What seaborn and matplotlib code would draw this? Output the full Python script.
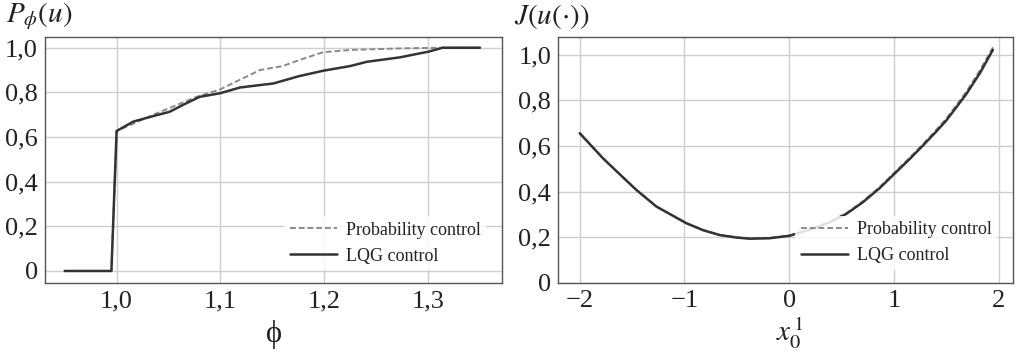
import numpy as np
import pandas as pd
import matplotlib
matplotlib.use("Agg")
import matplotlib.pyplot as plt
import seaborn as sns

# ---- data ----
phi_lqg = [0.95, 0.995, 1.0, 1.016, 1.0385, 1.051, 1.067, 1.080, 1.0995, 1.119, 1.151,
           1.176, 1.199, 1.225, 1.241, 1.273, 1.289, 1.300, 1.314, 1.350]
p_lqg = [0.0, 0.0, 0.627, 0.669, 0.698, 0.713, 0.751, 0.780, 0.796, 0.822, 0.840,
         0.873, 0.897, 0.918, 0.937, 0.957, 0.972, 0.982, 1.0, 1.0]
phi_prob = [0.95, 0.995, 1.0, 1.0385, 1.077, 1.0995, 1.115, 1.138, 1.160, 1.176,
            1.199, 1.225, 1.273, 1.310, 1.350]
p_prob = [0.0, 0.0, 0.627, 0.706, 0.780, 0.813, 0.848, 0.900, 0.918, 0.945,
          0.980, 0.990, 0.997, 1.0, 1.0]

x0_lqg = [-2.0, -1.778, -1.60, -1.459, -1.268, -0.982, -0.82, -0.664, -0.50, -0.378,
          -0.187, 0.004, 0.226, 0.40, 0.545, 0.70, 0.863, 1.022, 1.15, 1.276, 1.40,
          1.499, 1.60, 1.690, 1.82, 1.944]
j_lqg = [0.656, 0.546, 0.468, 0.407, 0.334, 0.261, 0.230, 0.209, 0.198, 0.193,
         0.195, 0.206, 0.237, 0.268, 0.302, 0.352, 0.415, 0.486, 0.543, 0.602, 0.662,
         0.712, 0.773, 0.828, 0.920, 1.022]
x0_prob = [-2.0, -1.778, -1.60, -1.459, -1.268, -0.982, -0.82, -0.664, -0.50, -0.378,
           -0.187, 0.004, 0.226, 0.40, 0.545, 0.70, 0.863, 1.022, 1.15, 1.276, 1.40,
           1.499, 1.60, 1.690, 1.82, 1.950]
j_prob = [0.658, 0.547, 0.469, 0.408, 0.335, 0.262, 0.231, 0.210, 0.199, 0.194,
          0.196, 0.207, 0.239, 0.270, 0.305, 0.356, 0.420, 0.491, 0.549, 0.608, 0.669,
          0.720, 0.782, 0.838, 0.932, 1.038]

left_yticks = [0, 0.2, 0.4, 0.6, 0.8, 1.0]
left_yticklabels = ["0", "0,2", "0,4", "0,6", "0,8", "1,0"]
left_xticks = [1.0, 1.1, 1.2, 1.3]
left_xticklabels = ["1,0", "1,1", "1,2", "1,3"]
right_yticks = [0, 0.2, 0.4, 0.6, 0.8, 1.0]
right_yticklabels = ["0", "0,2", "0,4", "0,6", "0,8", "1,0"]
right_xticks = [-2, -1, 0, 1, 2]
right_xticklabels = ["\u22122", "\u22121", "0", "1", "2"]

sns.set_style("whitegrid")
plt.rcParams["font.family"] = ["Liberation Serif", "DejaVu Serif"]
plt.rcParams["mathtext.fontset"] = "stix"

fig = plt.figure(figsize=(10.22, 3.56), dpi=100)
ax1 = fig.add_axes([0.044, 0.205, 0.447, 0.691])
ax2 = fig.add_axes([0.546, 0.206, 0.445, 0.691])

grid_c = "#cfcfcf"
spine_c = "#555555"
solid_c = "#333333"
dash_c = "#8a8a8a"

sns.lineplot(x=phi_prob, y=p_prob, ax=ax1, color=dash_c, linestyle=(0, (3, 1.5)),
             linewidth=1.4, label="Probability control", sort=False)
sns.lineplot(x=phi_lqg, y=p_lqg, ax=ax1, color=solid_c, linewidth=1.8,
             label="LQG control", sort=False)

sns.lineplot(x=x0_prob, y=j_prob, ax=ax2, color=dash_c, linestyle=(0, (3, 1.5)),
             linewidth=1.4, label="Probability control", sort=False)
sns.lineplot(x=x0_lqg, y=j_lqg, ax=ax2, color=solid_c, linewidth=1.8,
             label="LQG control", sort=False)

ax1.set_xlim(0.931, 1.371)
ax1.set_ylim(-0.054, 1.048)
ax2.set_xlim(-2.207, 2.134)
ax2.set_ylim(0, 1.08)

for ax, xt, xtl, yt, ytl in [(ax1, left_xticks, left_xticklabels, left_yticks, left_yticklabels),
                             (ax2, right_xticks, right_xticklabels, right_yticks, right_yticklabels)]:
    ax.set_xticks(xt)
    ax.set_xticklabels(xtl)
    ax.set_yticks(yt)
    ax.set_yticklabels(ytl)
    ax.tick_params(axis="both", labelsize=19, direction="in", length=7, width=1.2,
                   color="#444444", pad=5, labelcolor="#222222")
    ax.grid(True, color=grid_c, linewidth=1.0)
    for s in ax.spines.values():
        s.set_color(spine_c)
        s.set_linewidth(1.0)
    ax.set_xlabel("")
    ax.set_ylabel("")
    leg = ax.legend(loc="lower right", bbox_to_anchor=(0.985, 0.016), fontsize=13,
                    frameon=True, handlelength=2.6, handletextpad=0.5, labelspacing=0.5,
                    borderpad=0.3)
    leg.get_frame().set_facecolor("white")
    leg.get_frame().set_edgecolor("none")
    leg.get_frame().set_alpha(0.85)
    for t in leg.get_texts():
        t.set_color("#222222")

fig.text(0.006, 0.955, r"$P_{\phi}(u)$", fontsize=21, ha="left", va="center", color="#222222")
fig.text(0.503, 0.955, r"$J(u(\cdot))$", fontsize=21, ha="left", va="center", color="#222222")
fig.text(0.268, 0.06, "\u03d5", fontsize=22, ha="center", va="center", color="#222222")
fig.text(0.773, 0.065, r"$x_0^{\,1}$", fontsize=21, ha="center", va="center", color="#222222")

fig.savefig("out.png", dpi=100)
